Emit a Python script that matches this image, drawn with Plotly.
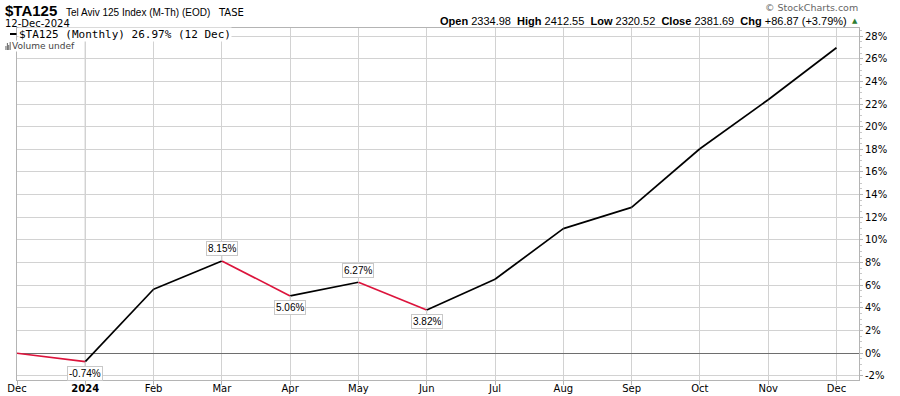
import plotly.graph_objects as go

# ---- data ----
months = ["Dec", "2024", "Feb", "Mar", "Apr", "May", "Jun", "Jul", "Aug", "Sep", "Oct", "Nov", "Dec"]
pct_change = [0.0, -0.74, 5.65, 8.15, 5.06, 6.27, 3.82, 6.53, 11.0, 12.88, 18.05, 22.38, 26.97]
y_ticks = list(range(-2, 30, 2))
y_tick_labels = [f"{v}%" for v in y_ticks]

W, H = 900, 396
ML, MR, MT, MB = 17, 41, 28, 16
PW, PH = W - ML - MR, H - MT - MB

def px(xp):
    return (xp - ML) / PW

def py(yp):
    return (H - MB - yp) / PH

UP = "#000000"
DOWN = "#dc143c"
idx = list(range(len(pct_change)))

fig = go.Figure()
for i in range(len(pct_change) - 1):
    col = UP if pct_change[i + 1] >= pct_change[i] else DOWN
    fig.add_trace(go.Scatter(
        x=[idx[i], idx[i + 1]], y=[pct_change[i], pct_change[i + 1]],
        mode="lines", line=dict(color=col, width=1.7),
        showlegend=False, hoverinfo="skip"))

# value labels at local extremes
for i in range(1, len(pct_change) - 1):
    a, b, c = pct_change[i - 1], pct_change[i], pct_change[i + 1]
    if b > a and b > c:
        ay = -12
    elif b < a and b < c:
        ay = 12
    else:
        continue
    fig.add_annotation(
        x=idx[i], y=b, text=f"{b:.2f}%", showarrow=True, arrowhead=0,
        arrowcolor="#cccccc", arrowwidth=1, ax=0, ay=ay, standoff=0,
        font=dict(family="Liberation Sans, Arial", size=10, color="#000"),
        bgcolor="#ffffff", bordercolor="#c8c8c8", borderwidth=1, borderpad=1)

# darker year separator
fig.add_shape(type="line", xref="x", yref="paper", x0=idx[1], x1=idx[1], y0=0, y1=1,
              line=dict(color="#a0a0a0", width=1), layer="below")

ticktext = [("<b>%s</b>" % m) if m.isdigit() else m for m in months]

fig.update_layout(
    width=W, height=H,
    margin=dict(l=ML, r=MR, t=MT, b=MB, autoexpand=False),
    paper_bgcolor="#ffffff", plot_bgcolor="#ffffff",
    xaxis=dict(
        range=[0, 12.33], tickvals=idx, ticktext=ticktext, automargin=False,
        showgrid=True, gridcolor="#d2d2d2", gridwidth=1,
        showline=True, linecolor="#b4b4b4", mirror=True,
        ticks="outside", ticklen=4, tickcolor="#b4b4b4", ticklabelstandoff=-5,
        tickfont=dict(family="DejaVu Sans", size=10, color="#000"),
        zeroline=False, fixedrange=True),
    yaxis=dict(
        side="right", range=[-2.36, 28.71], tickvals=y_ticks, ticktext=y_tick_labels,
        automargin=False,
        showgrid=True, gridcolor="#d2d2d2", gridwidth=1,
        showline=True, linecolor="#b4b4b4", mirror=True,
        ticks="outside", ticklen=3, tickcolor="#b4b4b4",
        minor=dict(dtick=0.5, ticks="outside", ticklen=2, tickcolor="#c8c8c8", showgrid=False),
        tickfont=dict(family="DejaVu Sans", size=10, color="#000"),
        zeroline=True, zerolinecolor="#6e6e6e", zerolinewidth=1.5,
        fixedrange=True),
)

# header texts
fig.add_annotation(xref="paper", yref="paper", x=px(3), y=py(11), xanchor="left", yanchor="middle",
                   showarrow=False, text="<b>$TA125</b>",
                   font=dict(family="Liberation Sans, Arial", size=15, color="#000"))
fig.add_annotation(xref="paper", yref="paper", x=px(64), y=py(12), xanchor="left", yanchor="middle",
                   showarrow=False, text="Tel Aviv 125 Index (M-Th) (EOD)",
                   font=dict(family="Liberation Sans, Arial", size=10, color="#000"))
fig.add_annotation(xref="paper", yref="paper", x=px(216), y=py(12), xanchor="left", yanchor="middle",
                   showarrow=False, text="TASE",
                   font=dict(family="DejaVu Sans", size=10, color="#000"))
fig.add_annotation(xref="paper", yref="paper", x=px(3), y=py(24), xanchor="left", yanchor="middle",
                   showarrow=False, text="12-Dec-2024",
                   font=dict(family="DejaVu Sans", size=10, color="#000"))
fig.add_annotation(xref="paper", yref="paper", x=px(860), y=py(7), xanchor="right", yanchor="middle",
                   showarrow=False, text="© StockCharts.com",
                   font=dict(family="DejaVu Sans", size=9.5, color="#666"))
fig.add_annotation(xref="paper", yref="paper", x=px(849), y=py(21), xanchor="right", yanchor="middle",
                   showarrow=False,
                   text="<b>Open</b> 2334.98  <b>High</b> 2412.55  <b>Low</b> 2320.52  "
                        "<b>Close</b> 2381.69  <b>Chg</b> +86.87 (+3.79%)",
                   font=dict(family="Liberation Sans, Arial", size=11, color="#000"))
fig.add_annotation(xref="paper", yref="paper", x=px(850), y=py(21), xanchor="left", yanchor="middle",
                   showarrow=False, text="▲",
                   font=dict(family="DejaVu Sans", size=7, color="#2e7d32"))

# legend in plot
fig.add_annotation(xref="paper", yref="paper", x=px(18), y=py(34), xanchor="left", yanchor="middle",
                   showarrow=False, text="$TA125 (Monthly) 26.97% (12 Dec)",
                   bgcolor="#ffffff", borderpad=0,
                   font=dict(family="DejaVu Sans Mono", size=11, color="#000"))
fig.add_shape(type="line", xref="paper", yref="paper", x0=px(10), x1=px(16.5), y0=py(34), y1=py(34),
              line=dict(color="#000", width=2))
fig.add_annotation(xref="paper", yref="paper", x=px(11), y=py(46), xanchor="left", yanchor="middle",
                   showarrow=False, text="Volume undef",
                   bgcolor="#ffffff", borderpad=0,
                   font=dict(family="DejaVu Sans", size=9, color="#444"))
for k, hgt in enumerate([4, 7, 5, 8]):
    x0 = 5.5 + k * 1.4
    fig.add_shape(type="rect", xref="paper", yref="paper",
                  x0=px(x0), x1=px(x0 + 0.9), y0=py(50), y1=py(50 - hgt),
                  line=dict(width=0), fillcolor="#555")

fig.write_html("out.html", config={"displayModeBar": False, "staticPlot": True})

# remove default page margin so the figure sits at the window's top-left corner
with open("out.html", encoding="utf-8") as f:
    html = f.read()
html = html.replace("<head>", "<head><style>html,body{margin:0;padding:0;overflow:hidden;}</style>", 1)
with open("out.html", "w", encoding="utf-8") as f:
    f.write(html)
